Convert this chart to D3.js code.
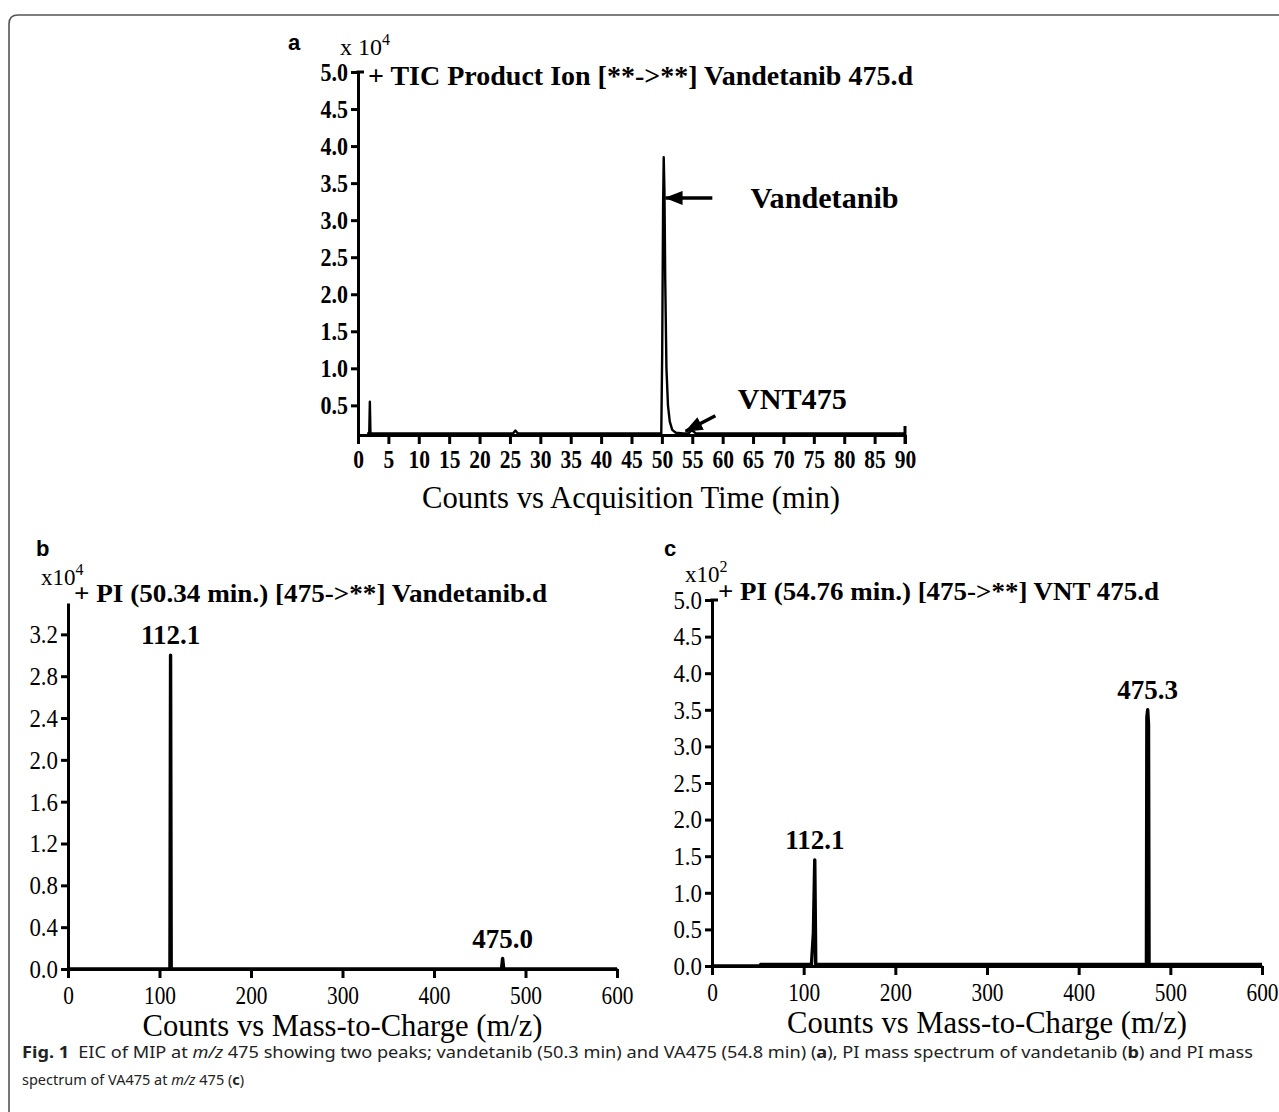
<!DOCTYPE html>
<html>
<head>
<meta charset="utf-8">
<script src="https://cdn.jsdelivr.net/npm/d3@7"></script>
<style>
body { margin: 0; background: #fff; }
svg { display: block; }
</style>
</head>
<body>
<svg width="1279" height="1112"></svg>
<script>
// panel a - TIC chromatogram, counts x10^4 vs acquisition time (min)
var ticTime   = [1.5, 1.85, 1.95, 2.05, 2.2, 25.5, 25.9, 26.3, 49.9, 50.05, 50.2, 50.3, 50.42, 50.55, 50.75, 51.0, 51.3, 51.7, 52.3, 53.5, 54.4, 54.8, 55.2, 55.6, 90];
var ticCounts = [0.12, 0.12, 0.55, 0.12, 0.12, 0.12, 0.16, 0.12, 0.12, 1.2, 3.2, 3.85, 3.4, 2.2, 1.0, 0.5, 0.28, 0.17, 0.13, 0.12, 0.12, 0.16, 0.15, 0.12, 0.12];
var ticXTicks = [0, 5, 10, 15, 20, 25, 30, 35, 40, 45, 50, 55, 60, 65, 70, 75, 80, 85, 90];
var ticYTicks = [0.5, 1.0, 1.5, 2.0, 2.5, 3.0, 3.5, 4.0, 4.5, 5.0];

// panel b - PI spectrum at 50.34 min, counts x10^4
var specBMz  = [0, 111.4, 112.1, 112.8, 473.8, 475.0, 476.2, 600];
var specBInt = [0, 0, 3.0, 0, 0, 0.1, 0, 0];
var specBYTicks = [0.0, 0.4, 0.8, 1.2, 1.6, 2.0, 2.4, 2.8, 3.2];
var specBPeaks = [{mz: 112.1, v: 3.0, label: "112.1"}, {mz: 475.0, v: 0.1, label: "475.0"}];

// panel c - PI spectrum at 54.76 min, counts x10^2
var specCMz  = [0, 52, 53, 108.5, 110.6, 112.1, 113.2, 114, 200, 300, 400, 470, 473.9, 474.4, 475.3, 476.2, 476.8, 600];
var specCInt = [0, 0, 0.02, 0.02, 0.45, 1.45, 0.02, 0.02, 0.02, 0.02, 0.02, 0.02, 0.02, 3.4, 3.5, 3.3, 0.02, 0.02];
var specCYTicks = [0.0, 0.5, 1.0, 1.5, 2.0, 2.5, 3.0, 3.5, 4.0, 4.5, 5.0];
var specCPeaks = [{mz: 112.1, v: 1.45, label: "112.1"}, {mz: 475.3, v: 3.5, label: "475.3"}];

var mzTicks = [0, 100, 200, 300, 400, 500, 600];

var serif = "Liberation Serif";
var sans = "Liberation Sans";

var svg = d3.select("svg");

// the scanned figure is a bit narrow, so squeeze serif texts sideways
function squeeze(sel, f) {
  sel.each(function() {
    var w = this.getComputedTextLength();
    d3.select(this).attr("textLength", w * f).attr("lengthAdjust", "spacingAndGlyphs");
  });
}

// frame round the figure
svg.append("path")
  .attr("d", "M9,1120 L9,24 Q9,15 18,15 L1285,15")
  .attr("fill", "none").attr("stroke", "#555").attr("stroke-width", 1.6);

var defs = svg.append("defs");
defs.append("marker")
  .attr("id", "head").attr("markerUnits", "userSpaceOnUse")
  .attr("viewBox", "0 0 18 14").attr("refX", 17).attr("refY", 7)
  .attr("markerWidth", 18).attr("markerHeight", 14).attr("orient", "auto")
  .append("path").attr("d", "M0,0 L18,7 L0,14 Z").attr("fill", "#000");

function styleAxis(g, w) {
  g.select(".domain").attr("stroke", "#000").attr("stroke-width", w);
  g.selectAll(".tick line").attr("stroke", "#000").attr("stroke-width", w);
}

// ---------- panel a ----------
var xA = d3.scaleLinear().domain([0, 90]).range([358, 905]);
var yA = d3.scaleLinear().domain([0.1, 5.0]).range([435, 72]);

var gxA = svg.append("g").attr("transform", "translate(0," + yA(0.1) + ")")
  .call(d3.axisBottom(xA).tickValues(ticXTicks).tickSize(9).tickSizeOuter(0).tickPadding(7));
styleAxis(gxA, 3);
gxA.selectAll("text").attr("font-family", serif).attr("font-weight", "bold").attr("font-size", 25).attr("fill", "#000")
  .attr("dy", "0.68em").call(squeeze, 0.86);
gxA.append("line").attr("x1", xA(90)).attr("x2", xA(90)).attr("y1", -9).attr("y2", 9)
  .attr("stroke", "#000").attr("stroke-width", 3);

var gyA = svg.append("g").attr("transform", "translate(" + xA(0) + ",0)")
  .call(d3.axisLeft(yA).tickValues(ticYTicks).tickFormat(d3.format(".1f")).tickSize(7).tickSizeOuter(0).tickPadding(3));
styleAxis(gyA, 3);
gyA.selectAll("text").attr("font-family", serif).attr("font-weight", "bold").attr("font-size", 25).attr("fill", "#000")
  .call(squeeze, 0.88);
gyA.append("line").attr("x1", -1.5).attr("x2", 6).attr("y1", yA(5.0)).attr("y2", yA(5.0))
  .attr("stroke", "#000").attr("stroke-width", 3);

var ticLine = d3.line().x(function(d, i) { return xA(ticTime[i]); }).y(function(d) { return yA(d); });
svg.append("path").datum(ticCounts).attr("d", ticLine)
  .attr("fill", "none").attr("stroke", "#000").attr("stroke-width", 2.4).attr("stroke-linejoin", "round");

svg.append("text").attr("x", 288).attr("y", 50).text("a")
  .attr("font-family", sans).attr("font-weight", "bold").attr("font-size", 22);
var expA = svg.append("text").attr("x", 340).attr("y", 55).attr("font-family", serif).attr("font-size", 24);
expA.append("tspan").text("x 10");
expA.append("tspan").attr("dy", -10).attr("font-size", 16).text("4");
svg.append("text").attr("x", 368).attr("y", 85).text("+ TIC Product Ion [**->**] Vandetanib 475.d")
  .attr("font-family", serif).attr("font-weight", "bold").attr("font-size", 27)
  .attr("textLength", 545).attr("lengthAdjust", "spacingAndGlyphs");

// peak call-outs
svg.append("line").attr("x1", xA(58.3)).attr("y1", yA(3.3)).attr("x2", xA(50.6)).attr("y2", yA(3.3))
  .attr("stroke", "#000").attr("stroke-width", 3.5).attr("marker-end", "url(#head)");
svg.append("text").attr("x", xA(64.6)).attr("y", yA(3.3) + 10).text("Vandetanib")
  .attr("font-family", serif).attr("font-weight", "bold").attr("font-size", 30)
  .attr("textLength", 148).attr("lengthAdjust", "spacingAndGlyphs");
svg.append("line").attr("x1", xA(58.8)).attr("y1", yA(0.36)).attr("x2", xA(53.9)).attr("y2", yA(0.15))
  .attr("stroke", "#000").attr("stroke-width", 3.5).attr("marker-end", "url(#head)");
svg.append("text").attr("x", xA(62.5)).attr("y", yA(0.45)).text("VNT475")
  .attr("font-family", serif).attr("font-weight", "bold").attr("font-size", 30)
  .attr("textLength", 109).attr("lengthAdjust", "spacingAndGlyphs");

svg.append("text").attr("x", 631).attr("y", 508).attr("text-anchor", "middle")
  .text("Counts vs Acquisition Time (min)")
  .attr("font-family", serif).attr("font-size", 31)
  .attr("textLength", 418).attr("lengthAdjust", "spacingAndGlyphs");

// ---------- spectra b and c ----------
function drawSpectrum(o) {
  var x = d3.scaleLinear().domain([0, 600]).range([o.x0, o.x1]);
  var y = d3.scaleLinear().domain([0, o.ymax]).range([o.yb, o.yt]);

  var gx = svg.append("g").attr("transform", "translate(0," + o.yb + ")")
    .call(d3.axisBottom(x).tickValues(mzTicks).tickSize(9).tickSizeOuter(0).tickPadding(8));
  styleAxis(gx, 3);
  gx.selectAll("text").attr("font-family", serif).attr("font-size", 26).attr("fill", "#000")
    .attr("dy", "0.68em").call(squeeze, 0.82);

  var gy = svg.append("g").attr("transform", "translate(" + o.x0 + ",0)")
    .call(d3.axisLeft(y).tickValues(o.yTicks).tickFormat(d3.format(".1f")).tickSize(7).tickSizeOuter(0).tickPadding(3));
  styleAxis(gy, 3);
  gy.selectAll("text").attr("font-family", serif).attr("font-size", 26).attr("fill", "#000")
    .call(squeeze, 0.88);
  if (o.hook) {
    gy.append("line").attr("x1", -1.5).attr("x2", 6).attr("y1", o.yt).attr("y2", o.yt)
      .attr("stroke", "#000").attr("stroke-width", 3);
  }

  var line = d3.line().x(function(d, i) { return x(o.mz[i]); }).y(function(d) { return y(d); });
  svg.append("path").datum(o.inten).attr("d", line)
    .attr("fill", "none").attr("stroke", "#000").attr("stroke-width", 3.4).attr("stroke-linejoin", "round");

  svg.selectAll(null).data(o.peaks).enter().append("text")
    .attr("x", function(d) { return x(d.mz); })
    .attr("y", function(d) { return y(d.v) - 11; })
    .attr("text-anchor", "middle").text(function(d) { return d.label; })
    .attr("font-family", serif).attr("font-weight", "bold").attr("font-size", 27);

  svg.append("text").attr("x", o.letterX).attr("y", 556).text(o.letter)
    .attr("font-family", sans).attr("font-weight", "bold").attr("font-size", 22);
  var ex = svg.append("text").attr("x", o.x0 - 27).attr("y", o.expY).attr("font-family", serif).attr("font-size", 23);
  ex.append("tspan").text("x10");
  ex.append("tspan").attr("dy", -10).attr("font-size", 16).text(o.exp);
  svg.append("text").attr("x", o.x0 + 6).attr("y", o.titleY).text(o.title)
    .attr("font-family", serif).attr("font-weight", "bold").attr("font-size", 25)
    .attr("textLength", o.titleW).attr("lengthAdjust", "spacingAndGlyphs");
  svg.append("text").attr("x", (o.x0 + o.x1) / 2).attr("y", o.yb + 67).attr("text-anchor", "middle")
    .text("Counts vs Mass-to-Charge (m/z)")
    .attr("font-family", serif).attr("font-size", 31)
    .attr("textLength", 400).attr("lengthAdjust", "spacingAndGlyphs");
}

drawSpectrum({x0: 68, x1: 617, yb: 969, yt: 603, ymax: 3.5, yTicks: specBYTicks,
  mz: specBMz, inten: specBInt, peaks: specBPeaks, hook: false, expY: 585,
  letter: "b", letterX: 36, exp: "4", title: "+ PI (50.34 min.) [475->**] Vandetanib.d", titleY: 602, titleW: 473});
drawSpectrum({x0: 712, x1: 1262, yb: 966, yt: 600, ymax: 5.0, yTicks: specCYTicks,
  mz: specCMz, inten: specCInt, peaks: specCPeaks, hook: true, expY: 582,
  letter: "c", letterX: 664, exp: "2", title: "+ PI (54.76 min.) [475->**] VNT 475.d", titleY: 600, titleW: 441});

// ---------- caption ----------
var cap1 = svg.append("text").attr("x", 22).attr("y", 1058)
  .attr("font-family", "Noto Sans").attr("font-size", 16).attr("fill", "#222")
  .attr("textLength", 1231).attr("lengthAdjust", "spacingAndGlyphs");
cap1.append("tspan").attr("font-weight", "bold").text("Fig. 1");
cap1.append("tspan").text("\u2002EIC of MIP at ");
cap1.append("tspan").attr("font-style", "italic").text("m/z");
cap1.append("tspan").text(" 475 showing two peaks; vandetanib (50.3 min) and VA475 (54.8 min) (");
cap1.append("tspan").attr("font-weight", "bold").text("a");
cap1.append("tspan").text("), PI mass spectrum of vandetanib (");
cap1.append("tspan").attr("font-weight", "bold").text("b");
cap1.append("tspan").text(") and PI mass");

var cap2 = svg.append("text").attr("x", 22).attr("y", 1085)
  .attr("font-family", "Noto Sans").attr("font-size", 14.5).attr("fill", "#222");
cap2.append("tspan").text("spectrum of VA475 at ");
cap2.append("tspan").attr("font-style", "italic").text("m/z");
cap2.append("tspan").text(" 475 (");
cap2.append("tspan").attr("font-weight", "bold").text("c");
cap2.append("tspan").text(")");
</script>
</body>
</html>
